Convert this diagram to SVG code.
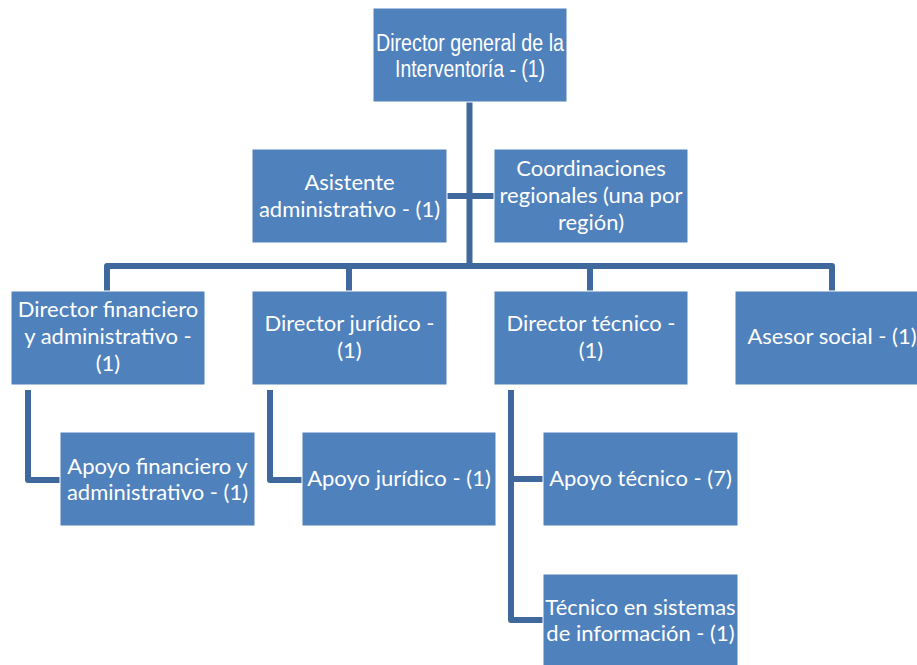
<svg xmlns="http://www.w3.org/2000/svg" width="917" height="665" viewBox="0 0 917 665">
<style>
.box{fill:#4F81BD;stroke:#ffffff;stroke-width:1}
.t{font-family:Lato,"Liberation Sans",sans-serif;font-size:22px;fill:#ffffff;text-anchor:middle}
.ta{font-family:"Liberation Sans",Arial,sans-serif;font-size:23px;fill:#ffffff;text-anchor:middle}
.c{stroke:#3F689C;stroke-width:6;fill:none;stroke-linejoin:round}
</style>
<rect width="917" height="665" fill="#ffffff"/>
<g id="connectors">
<path class="c" d="M469.5 102 V266"/>
<path class="c" d="M447 196 H494"/>
<path class="c" d="M107 291 V266 H832 V291"/>
<path class="c" d="M349 266 V291"/>
<path class="c" d="M590 266 V291"/>
<path class="c" d="M28 390 V480 H60"/>
<path class="c" d="M270 390 V480 H302"/>
<path class="c" d="M511 390 V620 H543"/>
<path class="c" d="M511 479 H543"/>
</g>
<g id="n-director-general">
<rect class="box" x="373" y="8" width="194" height="94"/>
<text class="ta" x="470" y="51" textLength="188" lengthAdjust="spacingAndGlyphs">Director general de la</text>
<text class="ta" x="470" y="77" textLength="150" lengthAdjust="spacingAndGlyphs">Interventoría - (1)</text>
</g>
<g id="n-asistente">
<rect class="box" x="252" y="149" width="195" height="94"/>
<text class="t" x="349.5" y="190">Asistente</text>
<text class="t" x="349.5" y="217">administrativo - (1)</text>
</g>
<g id="n-coordinaciones">
<rect class="box" x="494" y="149" width="194" height="94"/>
<text class="t" x="591" y="176">Coordinaciones</text>
<text class="t" x="591" y="203">regionales (una por</text>
<text class="t" x="591" y="230">región)</text>
</g>
<g id="n-dir-financiero">
<rect class="box" x="11" y="291" width="194" height="94"/>
<text class="t" x="108" y="317">Director financiero</text>
<text class="t" x="108" y="344">y administrativo -</text>
<text class="t" x="108" y="371">(1)</text>
</g>
<g id="n-dir-juridico">
<rect class="box" x="252" y="291" width="195" height="94"/>
<text class="t" x="349.5" y="331">Director jurídico -</text>
<text class="t" x="349.5" y="358">(1)</text>
</g>
<g id="n-dir-tecnico">
<rect class="box" x="494" y="291" width="194" height="94"/>
<text class="t" x="591" y="331">Director técnico -</text>
<text class="t" x="591" y="358">(1)</text>
</g>
<g id="n-asesor-social">
<rect class="box" x="735" y="291" width="194" height="94"/>
<text class="t" x="832" y="344">Asesor social - (1)</text>
</g>
<g id="n-apoyo-financiero">
<rect class="box" x="60" y="432" width="195" height="94"/>
<text class="t" x="157.5" y="474">Apoyo financiero y</text>
<text class="t" x="157.5" y="500">administrativo - (1)</text>
</g>
<g id="n-apoyo-juridico">
<rect class="box" x="302" y="432" width="194" height="94"/>
<text class="t" x="399" y="486">Apoyo jurídico - (1)</text>
</g>
<g id="n-apoyo-tecnico">
<rect class="box" x="543" y="432" width="195" height="94"/>
<text class="t" x="640.5" y="486">Apoyo técnico - (7)</text>
</g>
<g id="n-tecnico-sistemas">
<rect class="box" x="543" y="574" width="195" height="94"/>
<text class="t" x="640.5" y="615">Técnico en sistemas</text>
<text class="t" x="640.5" y="641">de información - (1)</text>
</g>
</svg>
